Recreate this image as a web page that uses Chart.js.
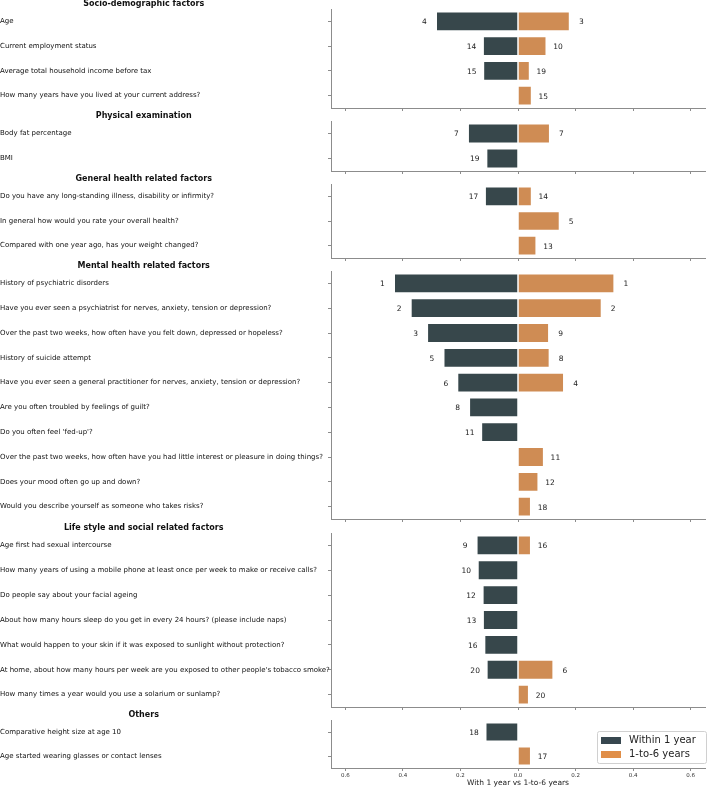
<!DOCTYPE html>
<html>
<head>
<meta charset="utf-8">
<script src="https://cdn.jsdelivr.net/npm/chart.js@4.4.1/dist/chart.umd.min.js"></script>
<style>
    html, body { margin: 0; padding: 0; background: #fff; }
    body { width: 708px; height: 787px; position: relative; overflow: hidden; }
    .panel { position: absolute; left: 0; width: 708px; }
</style>
</head>
<body>
<div id="wrap"></div>
<script>
// series names
const seriesNames = ['Within 1 year', '1-to-6 years'];
const xTicks = [-0.6, -0.4, -0.2, 0, 0.2, 0.4, 0.6];
const xTitle = 'With 1 year vs 1-to-6 years';

// Socio-demographic factors
const socioLabels = ['Age', 'Current employment status', 'Average total household income before tax',
    'How many years have you lived at your current address?'];
const socioWithin = [-0.285, -0.122, -0.121, null];
const socioLater = [0.180, 0.099, 0.041, 0.048];
const socioWithinRank = [4, 14, 15, null];
const socioLaterRank = [3, 10, 19, 15];

// Physical examination
const physLabels = ['Body fat percentage', 'BMI'];
const physWithin = [-0.174, -0.110];
const physLater = [0.111, null];
const physWithinRank = [7, 19];
const physLaterRank = [7, null];

// General health related factors
const generalLabels = ['Do you have any long-standing illness, disability or infirmity?',
    'In general how would you rate your overall health?',
    'Compared with one year ago, has your weight changed?'];
const generalWithin = [-0.115, null, null];
const generalLater = [0.048, 0.145, 0.064];
const generalWithinRank = [17, null, null];
const generalLaterRank = [14, 5, 13];

// Mental health related factors
const mentalLabels = ['History of psychiatric disorders',
    'Have you ever seen a psychiatrist for nerves, anxiety, tension or depression?',
    'Over the past two weeks, how often have you felt down, depressed or hopeless?',
    'History of suicide attempt',
    'Have you ever seen a general practitioner for nerves, anxiety, tension or depression?',
    'Are you often troubled by feelings of guilt?',
    "Do you often feel 'fed-up'?",
    'Over the past two weeks, how often have you had little interest or pleasure in doing things?',
    'Does your mood often go up and down?',
    'Would you describe yourself as someone who takes risks?'];
const mentalWithin = [-0.431, -0.373, -0.316, -0.259, -0.211, -0.170, -0.128, null, null, null];
const mentalLater = [0.335, 0.291, 0.108, 0.110, 0.160, null, null, 0.090, 0.071, 0.045];
const mentalWithinRank = [1, 2, 3, 5, 6, 8, 11, null, null, null];
const mentalLaterRank = [1, 2, 9, 8, 4, null, null, 11, 12, 18];

// Life style and social related factors
const lifeLabels = ['Age first had sexual intercourse',
    'How many years of using a mobile phone at least once per week to make or receive calls?',
    'Do people say about your facial ageing',
    'About how many hours sleep do you get in every 24 hours? (please include naps)',
    'What would happen to your skin if it was exposed to sunlight without protection?',
    "At home, about how many hours per week are you exposed to other people's tobacco smoke?",
    'How many times a year would you use a solarium or sunlamp?'];
const lifeWithin = [-0.144, -0.140, -0.123, -0.122, -0.117, -0.109, null];
const lifeLater = [0.045, null, null, null, null, 0.123, 0.038];
const lifeWithinRank = [9, 10, 12, 13, 16, 20, null];
const lifeLaterRank = [16, null, null, null, null, 6, 20];

// Others
const otherLabels = ['Comparative height size at age 10', 'Age started wearing glasses or contact lenses'];
const otherWithin = [-0.113, null];
const otherLater = [null, 0.045];
const otherWithinRank = [18, null];
const otherLaterRank = [null, 17];

const DARK = '#37474b';
const ORANGE = '#cf8c54';
const AXIS = '#8c8c8c';
const FONT = 'DejaVu Sans';
const HEAD = 14;

const panels = [
    { title: 'Socio-demographic factors', labels: socioLabels, within: socioWithin, later: socioLater,
      wr: socioWithinRank, lr: socioLaterRank, top: 9, bottom: 108 },
    { title: 'Physical examination', labels: physLabels, within: physWithin, later: physLater,
      wr: physWithinRank, lr: physLaterRank, top: 121, bottom: 171 },
    { title: 'General health related factors', labels: generalLabels, within: generalWithin, later: generalLater,
      wr: generalWithinRank, lr: generalLaterRank, top: 184, bottom: 258 },
    { title: 'Mental health related factors', labels: mentalLabels, within: mentalWithin, later: mentalLater,
      wr: mentalWithinRank, lr: mentalLaterRank, top: 271, bottom: 519 },
    { title: 'Life style and social related factors', labels: lifeLabels, within: lifeWithin, later: lifeLater,
      wr: lifeWithinRank, lr: lifeLaterRank, top: 533, bottom: 707 },
    { title: 'Others', labels: otherLabels, within: otherWithin, later: otherLater,
      wr: otherWithinRank, lr: otherLaterRank, top: 720, bottom: 768, last: true }
];

// header text above each panel
const headerPlugin = {
    id: 'header',
    afterDraw(chart, args, opts) {
        const ctx = chart.ctx;
        ctx.save();
        ctx.font = 'bold 8px ' + FONT;
        ctx.fillStyle = '#111';
        ctx.textAlign = 'center';
        ctx.textBaseline = 'middle';
        ctx.fillText(opts.text, 143.7, chart.chartArea.top - 5);
        ctx.restore();
    }
};

// rank numbers next to the bar ends
const rankPlugin = {
    id: 'ranks',
    afterDatasetsDraw(chart, args, opts) {
        const ctx = chart.ctx;
        ctx.save();
        ctx.font = '7.5px ' + FONT;
        ctx.fillStyle = '#222';
        ctx.textAlign = 'center';
        ctx.textBaseline = 'middle';
        chart.data.datasets.forEach((ds, di) => {
            const meta = chart.getDatasetMeta(di);
            const ranks = opts.ranks[di];
            meta.data.forEach((bar, i) => {
                if (ds.data[i] === null || ranks[i] === null) return;
                const dx = di === 0 ? -11.5 : 11.5;
                ctx.fillText(String(ranks[i]), bar.x + dx, bar.y + 1);
            });
        });
        ctx.restore();
    }
};

// legend box in the lower right of the last panel
const legendBoxPlugin = {
    id: 'legendBox',
    afterDraw(chart, args, opts) {
        if (!opts.show) return;
        const ctx = chart.ctx;
        const a = chart.chartArea;
        const x0 = a.right - 108, y0 = a.bottom - 37, w = 109, h = 32;
        ctx.save();
        ctx.fillStyle = 'rgba(255,255,255,0.85)';
        ctx.strokeStyle = '#d0d0d0';
        ctx.lineWidth = 1;
        ctx.beginPath();
        ctx.roundRect(x0 + 0.5, y0 + 0.5, w, h, 2);
        ctx.fill();
        ctx.stroke();
        ctx.font = '10px ' + FONT;
        ctx.textBaseline = 'middle';
        ctx.textAlign = 'left';
        const swatch = ['#37474f', '#e08e48'];
        chart.data.datasets.forEach((ds, i) => {
            const cy = y0 + 9.5 + i * 14;
            ctx.fillStyle = swatch[i];
            ctx.fillRect(x0 + 4, cy - 3.5, 20, 7);
            ctx.fillStyle = '#222';
            ctx.fillText(ds.label, x0 + 32, cy);
        });
        ctx.restore();
    }
};

function makePanel(p, idx) {
    const xh = p.last ? 20 : 4;
    const canvasTop = p.top - HEAD;
    const height = (p.bottom - p.top) + HEAD + xh;
    const div = document.createElement('div');
    div.className = 'panel';
    div.style.top = canvasTop + 'px';
    div.style.height = height + 'px';
    const canvas = document.createElement('canvas');
    canvas.id = 'panel' + idx;
    div.appendChild(canvas);
    document.getElementById('wrap').appendChild(div);

    return new Chart(canvas.getContext('2d'), {
        type: 'bar',
        data: {
            labels: p.labels,
            datasets: [{
                label: seriesNames[0],
                data: p.within,
                backgroundColor: DARK,
                borderColor: 'rgba(255,255,255,0.35)',
                borderWidth: 1,
                borderSkipped: 'start',
                barPercentage: 0.8,
                categoryPercentage: 1.0
            }, {
                label: seriesNames[1],
                data: p.later,
                backgroundColor: ORANGE,
                borderColor: 'rgba(255,255,255,0.35)',
                borderWidth: 1,
                borderSkipped: 'start',
                barPercentage: 0.8,
                categoryPercentage: 1.0
            }]
        },
        options: {
            indexAxis: 'y',
            responsive: true,
            maintainAspectRatio: false,
            animation: false,
            layout: { padding: { top: HEAD, right: 3, left: 0, bottom: 0 } },
            plugins: {
                legend: { display: false },
                tooltip: { enabled: false },
                header: { text: p.title },
                ranks: { ranks: [p.wr, p.lr] },
                legendBox: { show: !!p.last }
            },
            scales: {
                x: {
                    type: 'linear',
                    stacked: true,
                    min: -0.65,
                    max: 0.65,
                    afterBuildTicks: function(scale) {
                        scale.ticks = xTicks.map(v => ({ value: v }));
                    },
                    afterFit: function(scale) {
                        scale.height = xh;
                        scale.paddingLeft = 0;
                        scale.paddingRight = 0;
                    },
                    grid: { drawOnChartArea: false, drawTicks: true, tickLength: 3, color: AXIS },
                    border: { display: true, color: AXIS, width: 1 },
                    ticks: {
                        display: !!p.last,
                        maxRotation: 0,
                        autoSkip: false,
                        padding: 1,
                        font: { family: FONT, size: 5.5 },
                        color: '#333',
                        callback: v => Math.abs(v).toFixed(1)
                    },
                    title: {
                        display: !!p.last,
                        text: xTitle,
                        font: { family: FONT, size: 7.5 },
                        color: '#222',
                        padding: { top: 1, bottom: 0 }
                    }
                },
                y: {
                    type: 'category',
                    stacked: true,
                    offset: true,
                    afterFit: function(scale) {
                        scale.width = 331;
                        scale.paddingTop = 0;
                        scale.paddingBottom = 0;
                    },
                    grid: { drawOnChartArea: false, drawTicks: true, tickLength: 3, color: AXIS, offset: false },
                    border: { display: true, color: AXIS, width: 1 },
                    ticks: {
                        crossAlign: 'far',
                        autoSkip: false,
                        padding: 0,
                        font: { family: FONT, size: 7 },
                        color: '#111'
                    }
                }
            }
        },
        plugins: [headerPlugin, rankPlugin, legendBoxPlugin]
    });
}

panels.forEach((p, i) => makePanel(p, i));
</script>
</body>
</html>
